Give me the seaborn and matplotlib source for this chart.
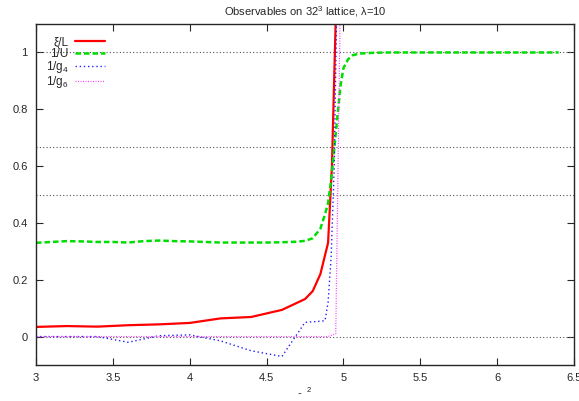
import matplotlib
matplotlib.use("Agg")
import matplotlib.pyplot as plt
import seaborn as sns
import pandas as pd

# ---- data ----
xi_x = [3.0, 3.2, 3.4, 3.6, 3.8, 4.0, 4.2, 4.4, 4.6, 4.75, 4.8, 4.85, 4.9, 4.925, 4.95, 4.97]
xi_y = [0.034, 0.037, 0.035, 0.040, 0.043, 0.048, 0.064, 0.069, 0.094, 0.132, 0.16, 0.22, 0.33, 0.60, 1.12, 1.6]

u_x = [3.0, 3.1, 3.2, 3.3, 3.4, 3.5, 3.6, 3.7, 3.8, 3.9, 4.0, 4.1, 4.2, 4.3, 4.4, 4.5, 4.6,
       4.7, 4.75, 4.8, 4.85, 4.88, 4.9, 4.92, 4.94, 4.96, 4.98, 5.0, 5.03, 5.06, 5.1, 5.2,
       5.3, 5.4, 5.5, 5.6, 5.7, 5.8, 5.9, 6.0, 6.1, 6.2, 6.3, 6.4]
u_y = [0.330, 0.333, 0.336, 0.335, 0.333, 0.333, 0.331, 0.336, 0.338, 0.336, 0.335, 0.333,
       0.331, 0.331, 0.331, 0.331, 0.332, 0.334, 0.337, 0.346, 0.38, 0.43, 0.47, 0.55,
       0.66, 0.77, 0.88, 0.945, 0.976, 0.99, 0.996, 0.999,
       1.0, 1.0, 1.0, 1.0, 1.0, 1.0, 1.0, 1.0, 1.0, 1.0, 1.0, 1.0]

g4_x = [3.0, 3.2, 3.4, 3.6, 3.8, 4.0, 4.2, 4.4, 4.6, 4.75, 4.8, 4.85, 4.88, 4.9, 4.92, 4.94, 4.96]
g4_y = [0.0, 0.0, 0.0, -0.02, 0.003, 0.006, -0.015, -0.05, -0.07, 0.05, 0.052, 0.054, 0.056,
        0.12, 0.28, 0.60, 1.3]

g6_x = [3.0, 3.2, 3.4, 3.6, 3.8, 4.0, 4.2, 4.4, 4.6, 4.75, 4.8, 4.85, 4.9, 4.95, 4.98]
g6_y = [0.0, 0.0, 0.0, 0.0, 0.0, 0.0, 0.0, 0.0, 0.0, 0.0, 0.0, 0.0, 0.0, 0.01, 1.2]

ref_levels = [0.0, 0.5, 2.0 / 3.0, 1.0]

labels = ["ξ/L", "1/U", "1/g$_4$", "1/g$_6$"]
xticks = [3, 3.5, 4, 4.5, 5, 5.5, 6, 6.5]
yticks = [0, 0.2, 0.4, 0.6, 0.8, 1]

# ---- plot ----
sns.set_style("ticks")
plt.rcParams["font.family"] = ["Liberation Sans", "DejaVu Sans"]
plt.rcParams["mathtext.fontset"] = "custom"
plt.rcParams["mathtext.rm"] = "Liberation Sans"
plt.rcParams["mathtext.it"] = "Liberation Sans"

fig = plt.figure(figsize=(5.79, 4.01), dpi=100)
ax = fig.add_axes([0.0622, 0.0898, 0.9292, 0.8502])

for lv in ref_levels:
    ax.axhline(lv, color="#555555", lw=0.8, ls=(0, (1, 2)), zorder=1)

series = [
    (xi_x, xi_y, labels[0], "#ff0000", "-", 1.6),
    (u_x, u_y, labels[1], "#00dd00", (0, (2.2, 1.2)), 1.8),
    (g4_x, g4_y, labels[2], "#2020ff", (0, (1.0, 2.0)), 1.0),
    (g6_x, g6_y, labels[3], "#ff40ff", (0, (0.8, 1.2)), 0.9),
]
for xs, ys, lab, col, ls, lw in series:
    df = pd.DataFrame({"x": xs, "y": ys})
    sns.lineplot(data=df, x="x", y="y", ax=ax, color=col, lw=lw, label=lab,
                 sort=False, estimator=None)
    ax.lines[-1].set_linestyle(ls)

ax.set_xlim(3, 6.5)
ax.set_ylim(-0.1, 1.1)
ax.set_xticks(xticks)
ax.set_xticklabels([f"{t:g}" for t in xticks])
ax.set_yticks(yticks)
ax.set_yticklabels([f"{t:g}" for t in yticks])
ax.tick_params(direction="in", top=True, right=True, length=5, width=0.8,
               labelsize=8, pad=6)
for s in ax.spines.values():
    s.set_linewidth(1.0)
    s.set_visible(True)

ax.set_xlabel("-  $^{2}$", fontsize=8, labelpad=1)
ax.set_ylabel("")
ax.set_title("Observables on 32$^3$ lattice, λ=10", fontsize=8, pad=6)

leg = ax.legend(loc="upper left", markerfirst=False, frameon=False, fontsize=8.5,
                handlelength=2.6, handletextpad=0.5, labelspacing=-0.05,
                borderaxespad=0.2, bbox_to_anchor=(0.005, 0.985))
for t in leg.get_texts():
    t.set_ha("right")

fig.savefig("out.png", dpi=100)
